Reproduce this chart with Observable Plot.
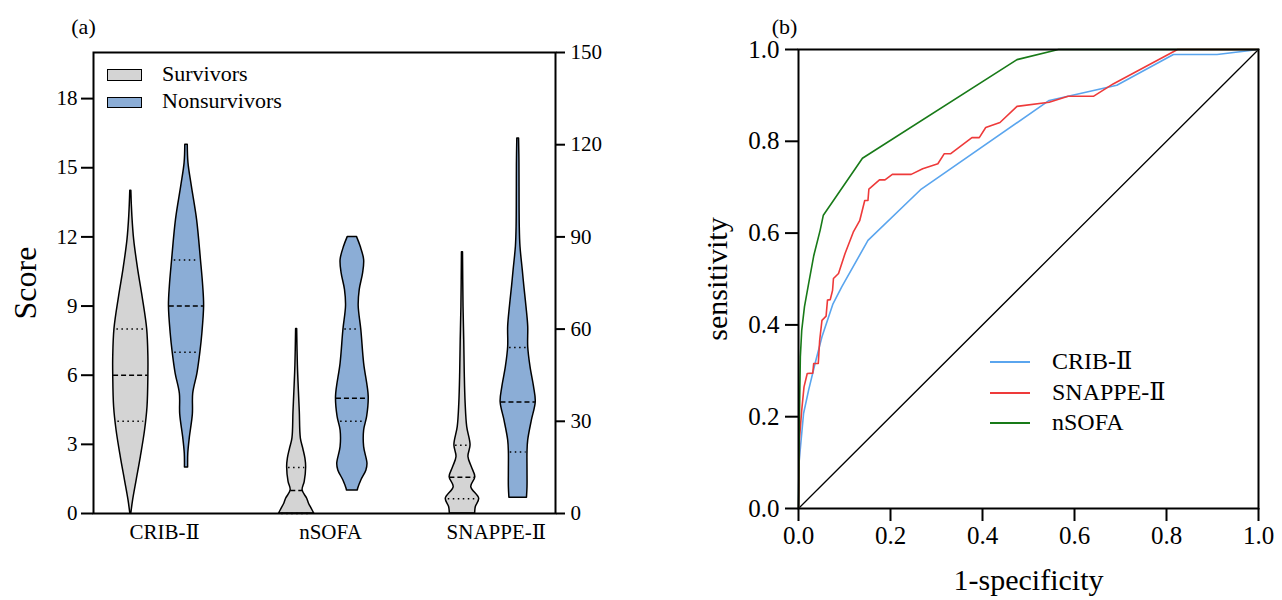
<!DOCTYPE html>
<html>
<head>
<meta charset="utf-8">
<script src="https://cdn.jsdelivr.net/npm/d3@7"></script>
<script src="https://cdn.jsdelivr.net/npm/@observablehq/plot@0.6"></script>
<style>
  body { margin: 0; background: #fff; }
  #wrap { position: relative; width: 1282px; height: 600px; overflow: hidden;
          font-family: "Liberation Serif", "DejaVu Serif", "Noto Sans CJK SC", serif; color: #000; }
  #left, #right { position: absolute; top: 0; }
  #left { left: 0; }
  #right { left: 640px; }
  .sw { position: absolute; box-sizing: border-box; border: 1.5px solid #000; }
  .lg { position: absolute; white-space: nowrap; line-height: 1; }
  .ln { position: absolute; height: 2px; }
</style>
</head>
<body>
<div id="wrap">
  <div id="left"></div>
  <div id="right"></div>
</div>
<script>
// ---------- data ----------
const categories = ["CRIB-Ⅱ", "nSOFA", "SNAPPE-Ⅱ"];
const groups = ["Survivors", "Nonsurvivors"];
const groupColors = ["#d4d4d4", "#8badd6"];

// violin profiles: score levels and relative half-width (density)
const cribSurvScore = [0, 0.57, 1.43, 2.45, 3.6, 4.62, 6, 6.8, 8, 9.4, 10.57, 11.87, 12.88, 14];
const cribSurvDens  = [0.03, 0.13, 0.33, 0.57, 0.81, 0.95, 1, 1, 0.93, 0.67, 0.42, 0.19, 0.09, 0.03];
const cribNonScore  = [2, 2.6, 3.3, 4.3, 5.2, 6.07, 7, 7.8, 9, 9.84, 11, 12.74, 14.2, 15.2, 16];
const cribNonDens   = [0.09, 0.1, 0.19, 0.36, 0.38, 0.62, 0.79, 0.9, 1, 0.95, 0.82, 0.6, 0.3, 0.11, 0.07];
const nsofaSurvScore = [0, 0.2, 0.41, 0.64, 1.0, 1.37, 2.0, 2.38, 2.8, 3.25, 4.4, 5.27, 6.43, 8];
const nsofaSurvDens  = [1, 0.86, 0.71, 0.6, 0.34, 0.46, 0.54, 0.5, 0.38, 0.24, 0.18, 0.13, 0.07, 0.03];
const nsofaNonScore = [1.0, 1.07, 1.43, 1.87, 2.16, 2.88, 3.6, 4.19, 5.06, 6.5, 7.96, 9.0, 9.7, 10.42, 11.0, 11.58, 12];
const nsofaNonDens  = [0.31, 0.33, 0.51, 0.8, 0.86, 0.67, 0.67, 0.84, 0.93, 0.67, 0.51, 0.36, 0.42, 0.61, 0.67, 0.47, 0.26];
// SNAPPE-II in its own units (right axis, 0-150)
const snappeSurvScore = [0, 2.1, 4.8, 8.6, 11.8, 15.1, 18.4, 22.2, 28.1, 35.8, 45.6, 56.4, 67.3, 85];
const snappeSurvDens  = [0.72, 0.76, 0.95, 0.5, 0.73, 0.53, 0.34, 0.46, 0.27, 0.18, 0.13, 0.1, 0.06, 0.03];
const snappeNonScore = [5.1, 8.6, 14, 20, 23.8, 30.3, 36.3, 41.2, 47.7, 54.2, 60.8, 67.3, 73.8, 79.2, 86.8, 93.4, 115, 122];
const snappeNonDens  = [0.5, 0.53, 0.53, 0.53, 0.57, 0.78, 1, 0.9, 0.7, 0.57, 0.57, 0.47, 0.35, 0.26, 0.13, 0.09, 0.07, 0.05];

// quartiles [Q1, median, Q3]
const cribSurvQ = [4, 6, 8],        cribNonQ = [7, 9, 11];
const nsofaSurvQ = [0, 1, 2],       nsofaNonQ = [4, 5, 8];
const snappeSurvQ = [4.8, 11.8, 22.2], snappeNonQ = [20, 36.3, 54];

const leftTicks = [0, 3, 6, 9, 12, 15, 18];
const rightTicks = [0, 30, 60, 90, 120, 150];

// ROC curves
const cribFpr = [0, 0.001, 0.011, 0.022, 0.036, 0.051, 0.075, 0.094, 0.151, 0.267, 0.545, 0.586, 0.692, 0.815, 0.910, 1];
const cribTpr = [0, 0.098, 0.207, 0.258, 0.316, 0.374, 0.446, 0.483, 0.584, 0.696, 0.889, 0.898, 0.922, 0.989, 0.989, 1];
const snappeFpr = [0, 0.001, 0.002, 0.007, 0.012, 0.019, 0.031, 0.033, 0.043, 0.046, 0.051, 0.060, 0.063, 0.069, 0.074, 0.076, 0.087, 0.101, 0.119, 0.133, 0.144, 0.151, 0.153, 0.176, 0.188, 0.204, 0.245, 0.27, 0.303, 0.317, 0.331, 0.377, 0.393, 0.407, 0.438, 0.475, 0.545, 0.586, 0.641, 0.684, 0.824, 1];
const snappeTpr = [0, 0.047, 0.15, 0.214, 0.265, 0.294, 0.295, 0.316, 0.316, 0.366, 0.41, 0.419, 0.454, 0.455, 0.475, 0.501, 0.512, 0.555, 0.602, 0.627, 0.671, 0.671, 0.696, 0.716, 0.716, 0.728, 0.728, 0.74, 0.751, 0.773, 0.773, 0.808, 0.808, 0.83, 0.841, 0.876, 0.885, 0.898, 0.898, 0.925, 1, 1];
const nsofaFpr = [0, 0.001, 0.002, 0.004, 0.007, 0.013, 0.022, 0.033, 0.047, 0.054, 0.139, 0.475, 0.565, 1];
const nsofaTpr = [0, 0.1, 0.2, 0.33, 0.388, 0.44, 0.49, 0.55, 0.606, 0.639, 0.763, 0.978, 1, 1];
const rocSeries = ["CRIB-Ⅱ", "SNAPPE-Ⅱ", "nSOFA"];
const rocColors = ["#5aa5ee", "#ee3a3a", "#187a18"];
const diagX = [0, 1], diagY = [0, 1];
const rocTicks = [0, 0.2, 0.4, 0.6, 0.8, 1.0];

// ---------- panel (a) ----------
const scoreMax = 20, snappeMax = 150, snappeRatio = snappeMax / scoreMax;
const groupOffset = 0.168, maxHalf = 0.106;
const violins = [
  {cat: 0, g: 0, s: cribSurvScore, d: cribSurvDens, q: cribSurvQ, k: 1},
  {cat: 0, g: 1, s: cribNonScore, d: cribNonDens, q: cribNonQ, k: 1},
  {cat: 1, g: 0, s: nsofaSurvScore, d: nsofaSurvDens, q: nsofaSurvQ, k: 1},
  {cat: 1, g: 1, s: nsofaNonScore, d: nsofaNonDens, q: nsofaNonQ, k: 1},
  {cat: 2, g: 0, s: snappeSurvScore, d: snappeSurvDens, q: snappeSurvQ, k: snappeRatio},
  {cat: 2, g: 1, s: snappeNonScore, d: snappeNonDens, q: snappeNonQ, k: snappeRatio}
];
const area = [], quart = [];
violins.forEach((v, vi) => {
  const c = v.cat + (v.g === 0 ? -groupOffset : groupOffset);
  v.s.forEach((s, i) => {
    const h = v.d[i] * maxHalf;
    area.push({key: vi, group: groups[v.g], y: s / v.k, x1: c - h, x2: c + h});
  });
  const interp = (val) => {
    for (let i = 0; i < v.s.length - 1; i++) {
      if (val >= v.s[i] && val <= v.s[i + 1]) {
        const t = (val - v.s[i]) / (v.s[i + 1] - v.s[i]);
        return v.d[i] + t * (v.d[i + 1] - v.d[i]);
      }
    }
    return v.d[0];
  };
  v.q.forEach((qv, qi) => {
    const h = interp(qv) * maxHalf * (qi === 1 ? 0.98 : 0.85);
    quart.push({type: qi === 1 ? "median" : "quartile", y: qv / v.k, x1: c - h, x2: c + h});
  });
});

const fontStack = "'Liberation Serif', 'DejaVu Serif', 'Noto Sans CJK SC', serif";

const left = Plot.plot({
  width: 640, height: 600,
  marginLeft: 93, marginRight: 85, marginTop: 52, marginBottom: 87,
  style: {fontFamily: fontStack, fontSize: "21px", color: "#000", background: "transparent"},
  x: {domain: [-0.393, 2.393]},
  y: {domain: [0, scoreMax]},
  color: {domain: groups, range: groupColors},
  marks: [
    Plot.areaX(area, {y: "y", x1: "x1", x2: "x2", z: "key", fill: "group", stroke: "#000", strokeWidth: 1.5, curve: "catmull-rom"}),
    Plot.ruleY(quart.filter(d => d.type === "median"), {y: "y", x1: "x1", x2: "x2", stroke: "#000", strokeWidth: 1.5, strokeDasharray: "5,3"}),
    Plot.ruleY(quart.filter(d => d.type === "quartile"), {y: "y", x1: "x1", x2: "x2", stroke: "#000", strokeWidth: 1.5, strokeDasharray: "1.5,3.5"}),
    Plot.frame({stroke: "#000", strokeWidth: 2}),
    Plot.axisY(leftTicks, {anchor: "left", tickSize: 12, tickPadding: 4, fontSize: 21, strokeWidth: 2, label: null}),
    Plot.axisY(rightTicks.map(d => d / snappeRatio), {anchor: "right", tickSize: 9, tickPadding: 6, fontSize: 21, strokeWidth: 2, label: null, tickFormat: d => Math.round(d * snappeRatio)}),
    Plot.axisX([0, 1, 2], {anchor: "bottom", tickSize: 0, tickPadding: 11, fontSize: 21, dx: 6, label: null, tickFormat: i => categories[i]}),
    Plot.text(["Score"], {text: d => d, frameAnchor: "left", textAnchor: "middle", lineAnchor: "middle", rotate: -90, dx: -68, fontSize: 32}),
    Plot.text(["(a)"], {text: d => d, frameAnchor: "top-left", textAnchor: "middle", lineAnchor: "middle", dx: -10, dy: -26, fontSize: 22})
  ]
});
document.getElementById("left").appendChild(left);

// ---------- panel (b) ----------
const roc = [];
[[cribFpr, cribTpr], [snappeFpr, snappeTpr], [nsofaFpr, nsofaTpr]].forEach(([fx, ty], si) => {
  fx.forEach((x, i) => roc.push({series: rocSeries[si], x, y: ty[i]}));
});
const diag = diagX.map((x, i) => ({x, y: diagY[i]}));

const right = Plot.plot({
  width: 642, height: 600,
  marginLeft: 158, marginRight: 24, marginTop: 49, marginBottom: 92,
  style: {fontFamily: fontStack, fontSize: "24px", color: "#000", background: "transparent"},
  x: {domain: [0, 1]},
  y: {domain: [0, 1]},
  color: {domain: rocSeries, range: rocColors},
  marks: [
    Plot.line(diag, {x: "x", y: "y", stroke: "#000", strokeWidth: 1.3}),
    Plot.line(roc, {x: "x", y: "y", z: "series", stroke: "series", strokeWidth: 1.6}),
    Plot.frame({stroke: "#000", strokeWidth: 2}),
    Plot.axisY(rocTicks, {anchor: "left", tickSize: 13, tickPadding: 6, fontSize: 25, strokeWidth: 2, label: null, tickFormat: d3.format(".1f")}),
    Plot.axisX(rocTicks, {anchor: "bottom", tickSize: 13, tickPadding: 5, fontSize: 25, strokeWidth: 2, label: null, tickFormat: d3.format(".1f")}),
    Plot.text(["sensitivity"], {text: d => d, frameAnchor: "left", textAnchor: "middle", lineAnchor: "middle", rotate: -90, dx: -81, fontSize: 30}),
    Plot.text(["1-specificity"], {text: d => d, frameAnchor: "bottom", textAnchor: "middle", lineAnchor: "middle", dy: 72, fontSize: 30}),
    Plot.text(["(b)"], {text: d => d, frameAnchor: "top-left", textAnchor: "middle", lineAnchor: "middle", dx: -14, dy: -23, fontSize: 22})
  ]
});
document.getElementById("right").appendChild(right);

// ---------- legends (HTML) ----------
const wrap = document.getElementById("wrap");
const addEl = (cls, css, txt) => {
  const el = document.createElement("div");
  el.className = cls;
  Object.assign(el.style, css);
  if (txt) el.textContent = txt;
  wrap.appendChild(el);
};
const legA = [{top: 69, h: 12, textTop: 63}, {top: 97, h: 11, textTop: 90}];
groups.forEach((g, i) => {
  addEl("sw", {left: "107px", top: legA[i].top + "px", width: "35px", height: legA[i].h + "px", background: groupColors[i]});
  addEl("lg", {left: "162px", top: legA[i].textTop + "px", fontSize: "22px"}, g);
});
const legB = [362, 393, 423];
rocSeries.forEach((s, i) => {
  addEl("ln", {left: "990px", top: (legB[i] - 1) + "px", width: "40px", background: rocColors[i]});
  addEl("lg", {left: "1052px", top: (legB[i] - 13) + "px", fontSize: "24px"}, s);
});
</script>
</body>
</html>
